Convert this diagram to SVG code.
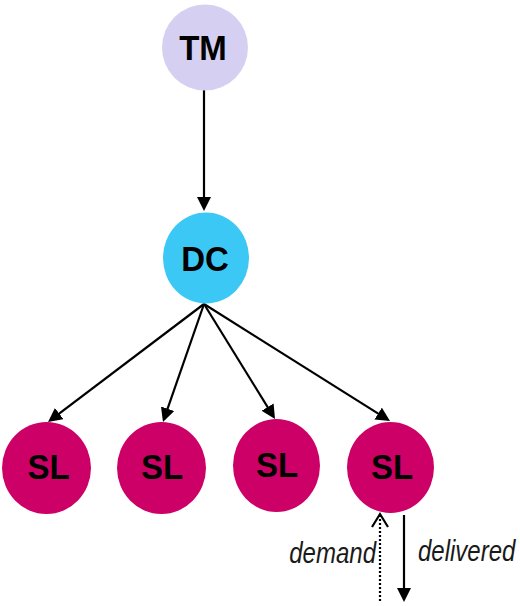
<svg xmlns="http://www.w3.org/2000/svg" width="520" height="606" viewBox="0 0 520 606">
<defs>
<style>
.lbl{font-family:"Liberation Sans",Arial,sans-serif;font-weight:bold;font-size:33px;fill:#000;text-anchor:middle}
.ital{font-family:"Liberation Sans",Arial,sans-serif;font-style:italic;font-size:24px;fill:#1a1a1a}
.edge{stroke:#000;stroke-width:2.2;fill:none}
.tm{fill:#D5D0F1}
.dc{fill:#3CC8F4}
.sl{fill:#CC0066}
</style>
<marker id="ah" viewBox="0 0 14 14" markerWidth="14" markerHeight="14" refX="10" refY="7" orient="auto" markerUnits="userSpaceOnUse">
<path d="M0,0 L14,7 L0,14 z" fill="#000"/>
</marker>
</defs>
<rect width="520" height="606" fill="#fff"/>
<g id="connectors">
<line class="edge" x1="204" y1="90" x2="204" y2="207" marker-end="url(#ah)"/>
<line class="edge" x1="204" y1="304" x2="51.2" y2="419.6" marker-end="url(#ah)"/>
<line class="edge" x1="204" y1="304" x2="164.3" y2="418.2" marker-end="url(#ah)"/>
<line class="edge" x1="204" y1="304" x2="272.9" y2="415.6" marker-end="url(#ah)"/>
<line class="edge" x1="204" y1="304" x2="386.6" y2="418.9" marker-end="url(#ah)"/>
<g id="demand">
<line class="edge" x1="380" y1="601" x2="380" y2="516" stroke-dasharray="2 2"/>
<polyline class="edge" points="372,527 380,514 388,527"/>
<text class="ital" transform="translate(376,563) scale(1,1.22)" text-anchor="end">demand</text>
</g>
<g id="delivered">
<line class="edge" x1="404" y1="515" x2="404" y2="598" marker-end="url(#ah)"/>
<text class="ital" transform="translate(418,560.5) scale(1,1.22)">delivered</text>
</g>
</g>
<g id="TM">
<ellipse class="tm" cx="205" cy="47.5" rx="43" ry="43"/>
<text class="lbl" transform="translate(203,60) scale(1,1.07)">TM</text>
</g>
<g id="DC">
<ellipse class="dc" cx="206" cy="258" rx="43" ry="45.5"/>
<text class="lbl" transform="translate(205,270.5) scale(1,1.07)">DC</text>
</g>
<g id="SL1">
<ellipse class="sl" cx="46.5" cy="468" rx="44.5" ry="46"/>
<text class="lbl" transform="translate(48.5,479) scale(1,1.07)">SL</text>
</g>
<g id="SL2">
<ellipse class="sl" cx="161.5" cy="468" rx="44.5" ry="46"/>
<text class="lbl" transform="translate(162,479) scale(1,1.07)">SL</text>
</g>
<g id="SL3">
<ellipse class="sl" cx="276.5" cy="465.5" rx="43.5" ry="46.5"/>
<text class="lbl" transform="translate(277,477) scale(1,1.07)">SL</text>
</g>
<g id="SL4">
<ellipse class="sl" cx="390.5" cy="467.5" rx="43.5" ry="45.5"/>
<text class="lbl" transform="translate(392,479) scale(1,1.07)">SL</text>
</g>
</svg>
